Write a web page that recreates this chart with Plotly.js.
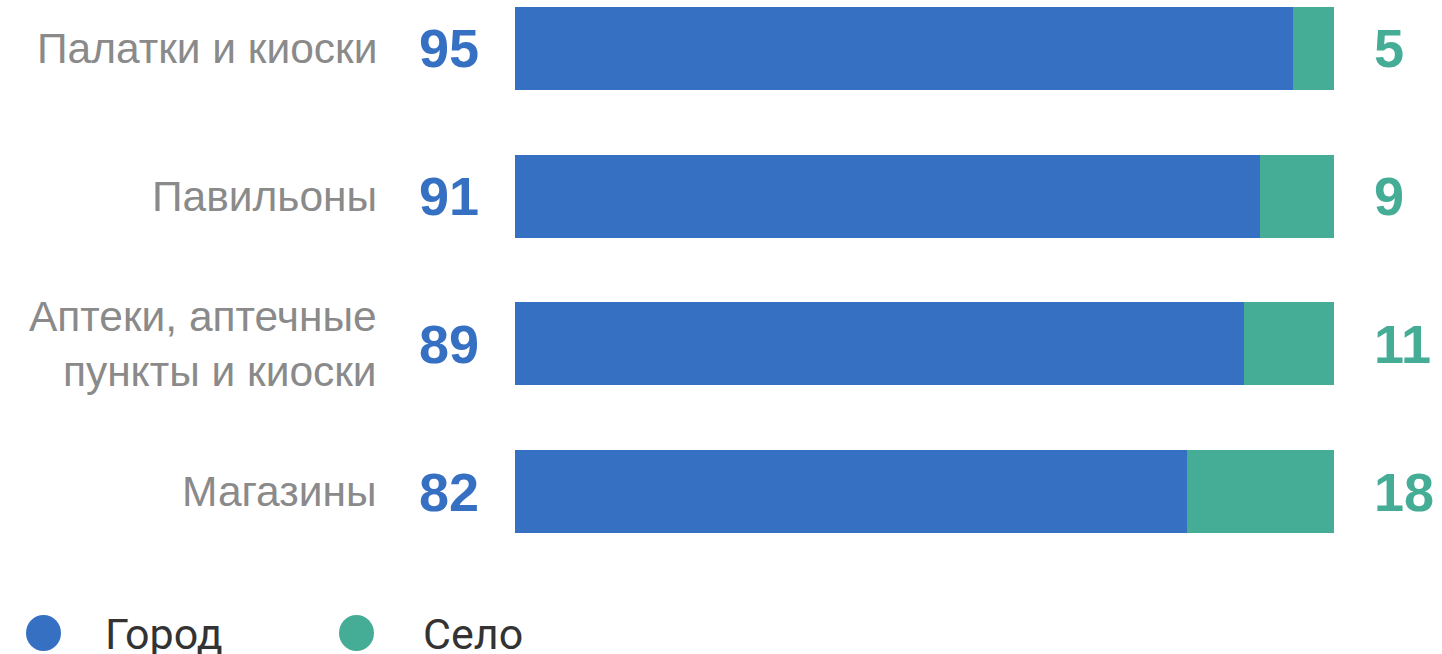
<!DOCTYPE html>
<html>
<head>
<meta charset="utf-8">
<script src="https://cdn.plot.ly/plotly-3.0.1.min.js"></script>
<style>html,body{margin:0;padding:0;background:#fff;}#chart{width:1442px;height:654px;}</style>
</head>
<body>
<div id="chart"></div>
<script>
const categories = ["Палатки и киоски", "Павильоны", "Аптеки, аптечные<br>пункты и киоски", "Магазины"];
const cityValues = [95, 91, 89, 82];
const villageValues = [5, 9, 11, 18];
const seriesNames = ["Город", "Село"];

const BLUE = "#3670C2";
const GREEN = "#45AC96";

const traces = [
  {type: "bar", orientation: "h", y: categories, x: cityValues, name: seriesNames[0],
   marker: {color: BLUE, line: {width: 0}}, hoverinfo: "skip"},
  {type: "bar", orientation: "h", y: categories, x: villageValues, name: seriesNames[1],
   marker: {color: GREEN, line: {width: 0}}, hoverinfo: "skip"}
];

const annotations = [];
categories.forEach((c, i) => {
  annotations.push({xref: "paper", yref: "y", x: 0, y: c, xshift: -136, xanchor: "right", yanchor: "middle",
    text: c, showarrow: false, align: "right",
    font: {family: "Liberation Sans, Arial, sans-serif", size: 42.5, color: "#8a8a8a"}});
  annotations.push({xref: "paper", yref: "y", x: 0, y: c, xshift: -34, xanchor: "right", yanchor: "middle",
    text: "<b>" + cityValues[i] + "</b>", showarrow: false,
    font: {family: "Liberation Sans, Arial, sans-serif", size: 54, color: BLUE}});
  annotations.push({xref: "paper", yref: "y", x: 1, y: c, xshift: 38, xanchor: "left", yanchor: "middle",
    text: "<b>" + villageValues[i] + "</b>", showarrow: false,
    font: {family: "Liberation Sans, Arial, sans-serif", size: 54, color: GREEN}});
});

// legend (drawn manually)
const plotL = 515, plotW = 819, plotH = 580;
const px2x = p => (p - plotL) / plotW;
const py2y = p => 1 - p / plotH;
const legendItems = [
  {cx: 43.5, tx: 103, color: BLUE, name: seriesNames[0]},
  {cx: 356.5, tx: 421, color: GREEN, name: seriesNames[1]}
];
const shapes = [];
legendItems.forEach(it => {
  shapes.push({type: "circle", xref: "paper", yref: "paper", xsizemode: "pixel", ysizemode: "pixel",
    xanchor: px2x(it.cx), yanchor: py2y(633), x0: -17.5, x1: 17.5, y0: -18, y1: 18,
    fillcolor: it.color, line: {width: 0}});
  annotations.push({xref: "paper", yref: "paper", x: px2x(it.tx), y: py2y(634), xanchor: "left", yanchor: "middle",
    text: it.name, showarrow: false,
    font: {family: "Roboto, sans-serif", size: 43, color: "#333333"}});
});

const layout = {
  width: 1442, height: 654,
  margin: {l: 515, r: 108, t: 0, b: 74, pad: 0},
  paper_bgcolor: "#ffffff", plot_bgcolor: "#ffffff",
  barmode: "stack", bargap: 0.438,
  showlegend: false,
  xaxis: {range: [0, 100], visible: false, fixedrange: true},
  yaxis: {type: "category", range: [3.5993, -0.3284], showticklabels: false, showgrid: false,
          zeroline: false, showline: false, ticks: "", fixedrange: true},
  annotations: annotations,
  shapes: shapes
};

Plotly.newPlot("chart", traces, layout, {staticPlot: true, displayModeBar: false});
</script>
</body>
</html>
